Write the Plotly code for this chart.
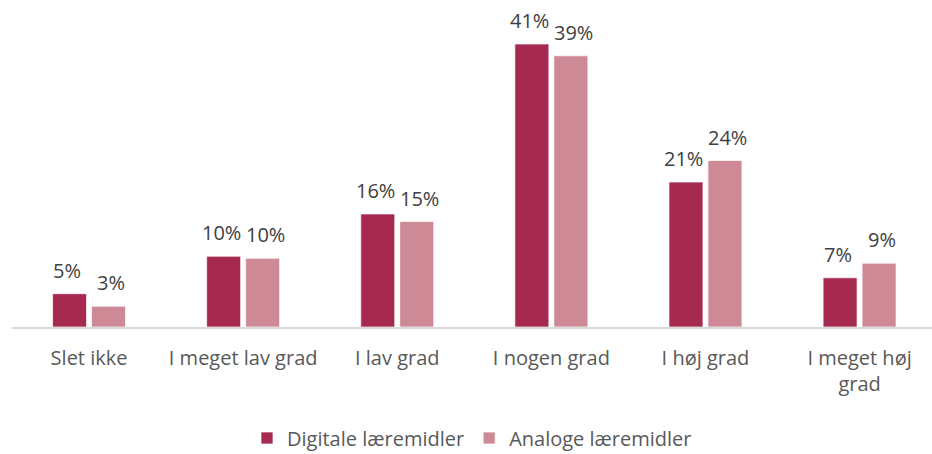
import plotly.graph_objects as go

categories = ["Slet ikke", "I meget lav grad", "I lav grad", "I nogen grad", "I høj grad", "I meget høj<br>grad"]
digitale = [4.8, 10.2, 16.3, 40.8, 20.9, 7.1]
analoge = [3.0, 9.9, 15.2, 39.1, 24.0, 9.2]
series_names = ["Digitale læremidler", "Analoge læremidler"]
colors = ["#A6294F", "#CD8996"]

font_family = "Open Sans, Noto Sans, sans-serif"

fig = go.Figure()
for name, vals, col in zip(series_names, [digitale, analoge], colors):
    fig.add_trace(go.Bar(
        x=categories, y=vals, name=name,
        marker=dict(color=col, line=dict(color="white", width=0.7)),
    ))

# data labels as annotations
for idx, (vals, shift) in enumerate([(digitale, -22), (analoge, 22)]):
    for c, v in zip(categories, vals):
        fig.add_annotation(
            x=c, y=v, text=f"{round(v):.0f}%", showarrow=False,
            xshift=shift, yanchor="bottom", yshift=8,
            font=dict(family=font_family, size=20, color="#404040"),
        )

fig.update_layout(
    width=932, height=454,
    margin=dict(l=12, r=0, t=10, b=127, autoexpand=False),
    paper_bgcolor="white", plot_bgcolor="white",
    barmode="group", bargap=0.494, bargroupgap=0.128,
    font=dict(family=font_family, size=20, color="#595959"),
    showlegend=True,
    legend=dict(orientation="h", x=0.5, xanchor="center", yref="container",
                y=1 - 438 / 454, yanchor="middle",
                font=dict(size=20, color="#595959"), itemwidth=30, traceorder="normal"),
    xaxis=dict(range=[-0.5, 5.47], showline=True, linecolor="#D9D9D9", linewidth=1.5,
               ticks="", showgrid=False, ticklabelstandoff=12, automargin=False,
               tickfont=dict(size=20, color="#595959")),
    yaxis=dict(range=[0, 45.7], visible=False, showgrid=False, zeroline=False),
)

fig.write_html("out.html", config={"displayModeBar": False},
               post_script="document.body.style.margin='0';document.body.style.overflow='hidden';")
